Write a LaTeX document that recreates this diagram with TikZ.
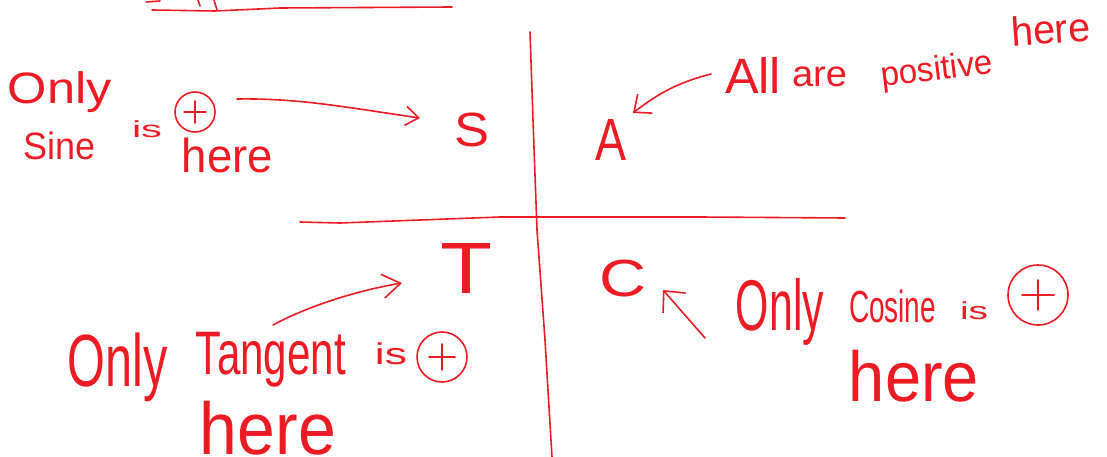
\documentclass[tikz,border=0pt]{standalone}
\usepackage{fontspec}
\setmainfont{Liberation Sans}
\usepackage{graphicx}
\usetikzlibrary{arrows.meta}
\definecolor{inkred}{RGB}{237,28,36}
% fit a word into a box of given width and total height (in pt)
\newcommand\handbox[3]{\resizebox*{#1pt}{#2pt}{#3}}
\tikzset{
  pen/.style={draw=inkred, line width=1.6pt, line cap=round, line join=round},
  hand/.style={text=inkred, inner sep=0pt, anchor=center},
  pluscirc/.style={circle, draw=inkred, line width=1.6pt, inner sep=0pt},
}
\begin{document}
\begin{tikzpicture}[x=1pt, y=-1pt]
  \fill[white] (0,0) rectangle (1107,457);
  \useasboundingbox (0,0) rectangle (1107,457);

  % remains of an earlier line at the top
  \draw[pen] (152,10) -- (215,11) -- (280,8) -- (452,7);
  \draw[pen] (146,2) -- (160,1);
  \draw[pen] (198,0) -- (200,6);
  \draw[pen] (214,0) -- (217,10);

  % axes
  \coordinate (ytop) at (530,32);
  \coordinate (ybot) at (552,457);
  \coordinate (xl) at (300,222);
  \coordinate (xr) at (845,218);
  \draw[pen] (ytop) -- (533,120) -- (537,230) -- (545,340) -- (ybot);
  \draw[pen] (xl) -- (340,223) -- (500,217) -- (700,217) -- (xr);

  % quadrant letters
  \node[hand] (S) at (471.5,130) {\handbox{35}{34}{S}};
  \node[hand] (A) at (610.5,139.5) {\handbox{31}{41}{A}};
  \node[hand] (T) at (467,268) {\handbox{52}{50}{T}};
  \node[hand] (C) at (622.5,278.5) {\handbox{47}{37}{C}};

  % second quadrant note
  \node[hand] (only1) at (60,92.5) {\handbox{104}{41}{Only}};
  \node[hand] (sine) at (60,146) {\handbox{72}{28}{Sine}};
  \node[hand] (is1) at (147,129.5) {\handbox{30}{17}{is}};
  \node[pluscirc, minimum size=40pt] (plus1) at (195,112) {};
  \draw[pen] ([xshift=-11pt]plus1.center) -- ([xshift=11pt]plus1.center);
  \draw[pen] ([yshift=-11pt]plus1.center) -- ([yshift=11pt]plus1.center);
  \node[hand] (here1) at (227.5,155.5) {\handbox{91}{35}{here}};

  % first quadrant note
  \node[hand] (all) at (753,76) {\handbox{56}{36}{All}};
  \node[hand] (are) at (819.5,77) {\handbox{55}{20}{are}};
  \node[hand, rotate=7] (positive) at (937,71) {\handbox{112}{32}{positive}};
  \node[hand, rotate=4] (here2) at (1050.5,29) {\handbox{79}{30}{here}};

  % third quadrant note
  \node[hand] (only2) at (118,367.5) {\handbox{100}{69}{Only}};
  \node[hand] (tangent) at (271,359.5) {\handbox{150}{55}{Tangent}};
  \node[hand] (is2) at (391,354) {\handbox{32}{22}{is}};
  \node[pluscirc, minimum size=50pt] (plus2) at (442,357) {};
  \draw[pen] ([xshift=-13pt]plus2.center) -- ([xshift=13pt]plus2.center);
  \draw[pen] ([yshift=-13pt]plus2.center) -- ([yshift=13pt]plus2.center);
  \node[hand] (here3) at (268,428) {\handbox{136}{54}{here}};

  % fourth quadrant note
  \node[hand] (only3) at (780,311.5) {\handbox{88}{67}{Only}};
  \node[hand] (cosine) at (892.5,306.5) {\handbox{87}{33}{Cosine}};
  \node[hand] (is3) at (974,311) {\handbox{28}{18}{is}};
  \node[pluscirc, minimum size=60pt] (plus3) at (1038,295) {};
  \draw[pen] ([xshift=-16pt]plus3.center) -- ([xshift=16pt]plus3.center);
  \draw[pen] ([yshift=-15pt]plus3.center) -- ([yshift=15pt]plus3.center);
  \node[hand] (here4) at (914,376) {\handbox{130}{52}{here}};

  % pointers
  \coordinate (t1) at (237,99);
  \coordinate (h1) at (420,118);
  \draw[pen, -{Straight Barb[length=13pt, width=19pt]}]
    (t1) .. controls (300,98) and (350,108) .. (h1);
  \coordinate (t2) at (711,74);
  \coordinate (h2) at (633,113);
  \draw[pen, -{Straight Barb[length=14pt, width=24pt]}]
    (t2) .. controls (680,82) and (660,92) .. (h2);
  \coordinate (t3) at (273,325);
  \coordinate (h3) at (402,283);
  \draw[pen, -{Straight Barb[length=18pt, width=24pt]}]
    (t3) .. controls (310,305) and (360,290) .. (h3);
  \coordinate (t4) at (705,338);
  \coordinate (h4) at (663,290);
  \draw[pen, -{Straight Barb[length=16pt, width=30pt]}] (t4) -- (h4);
\end{tikzpicture}
\end{document}
